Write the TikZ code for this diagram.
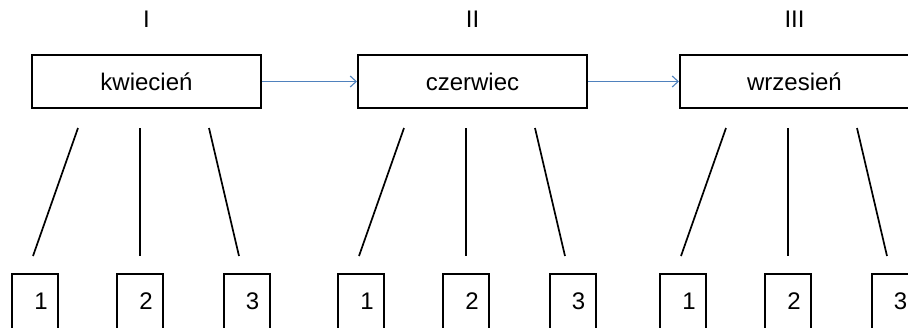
\documentclass[tikz,border=0pt]{standalone}
\usepackage{fontspec}
\setmainfont{Liberation Sans}
\usetikzlibrary{positioning,arrows.meta}
\definecolor{pfeilblau}{HTML}{4F81BD}
\tikzset{
  monat/.style={draw, line width=2pt, minimum width=229pt, minimum height=53pt, inner sep=0pt},
  etappe/.style={inner sep=0pt},
  teil/.style={draw, line width=2pt, minimum width=46pt, minimum height=60pt,
    anchor=north, text depth=6pt, inner sep=0pt},
  strich/.style={line width=1.7pt},
  pfeil/.style={draw=pfeilblau, line width=1.1pt, -{Straight Barb[length=6pt,width=11pt]}},
}
\begin{document}
\begin{tikzpicture}[x=1pt, y=-1pt, font=\fontsize{24}{28}\selectfont]
  \useasboundingbox (0,0) rectangle (908,327);
  \clip (0,0) rectangle (908,327);

  % Drei Monate, jeweils mit Nummer darueber und drei Teilen darunter
  \foreach \g/\x/\r/\m in {1/0/I/kwiecień, 2/326/II/czerwiec, 3/648/III/wrzesień} {
    \node[monat] (m\g) at (146.5+\x,81.5) {\m};
    \node[etappe, above=26pt of m\g] (r\g) {\r};

    % Teile unten (nach unten abgeschnitten)
    \node[teil] (t\g a) at (35+\x,273)    {\hspace*{12pt}1};
    \node[teil] (t\g b) at (140+\x,273)   {\hspace*{12pt}2};
    \node[teil] (t\g c) at (246.5+\x,273) {\hspace*{12pt}3};

    % Striche zwischen Monat und Teilen
    \coordinate (o\g a) at (78+\x,128);
    \coordinate (o\g b) at (140+\x,128);
    \coordinate (o\g c) at (209+\x,128);
    \coordinate (u\g a) at (33+\x,256);
    \coordinate (u\g b) at (140+\x,256);
    \coordinate (u\g c) at (239+\x,256);
    \draw[strich] (o\g a) -- (u\g a);
    \draw[strich] (o\g b) -- (u\g b);
    \draw[strich] (o\g c) -- (u\g c);
  }

  % Verbindungs-Pfeile
  \draw[pfeil] (m1) -- (m2);
  \draw[pfeil] (m2) -- (m3);
\end{tikzpicture}
\end{document}
